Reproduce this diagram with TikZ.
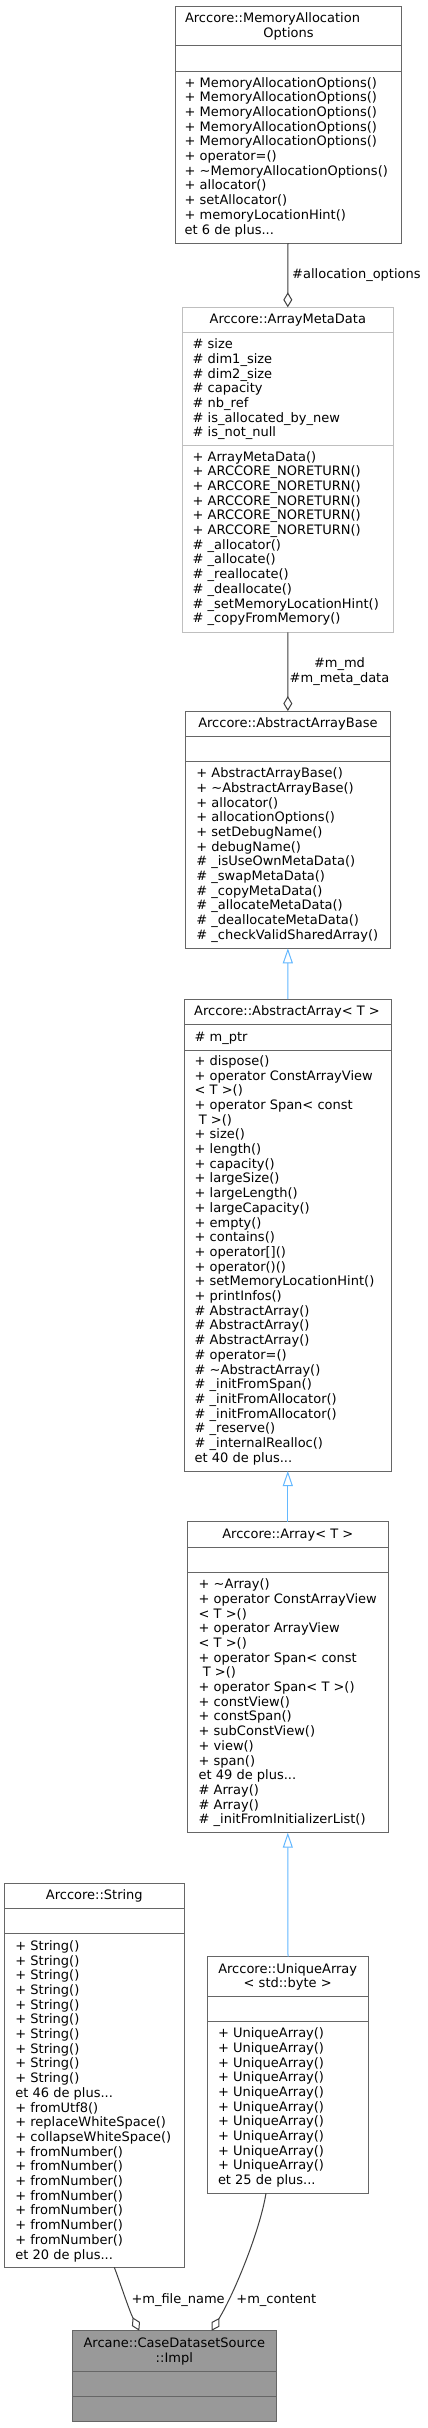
\documentclass[tikz,border=0pt]{standalone}
\usepackage{fontspec}
\setmainfont{DejaVu Sans}
\usetikzlibrary{arrows.meta,calc}
\definecolor{boxgray}{HTML}{666666}
\definecolor{lightgray}{HTML}{BFBFBF}
\definecolor{implfill}{HTML}{999999}
\definecolor{edgegray}{HTML}{404040}
\definecolor{inhblue}{HTML}{63B8FF}
\newcommand\tdots{...}
\newcommand\tl{\textasciitilde}
\newcommand\clines[4]{\foreach \t [count=\i] in {#4} {\node[txt,anchor=base west] (#1-\i) at (#2,{#3+(\i-1)*14.7}) {\t};}}
\newcommand\sepl[3][boxgray]{\draw[draw=#1,line width=1pt] ([yshift=-#3pt]#2.north west) -- ([yshift=-#3pt]#2.north east);}
\tikzset{
  box/.style={draw=boxgray, fill=white, line width=1pt, inner sep=0pt, outer sep=0pt, anchor=north west},
  txt/.style={inner sep=0pt, outer sep=0pt, font=\fontsize{13}{14.7}\selectfont},
  agg/.style={draw=edgegray, line width=1pt, -{Diamond[open,length=15pt,width=9pt]}},
  inh/.style={draw=inhblue, line width=1pt, -{Triangle[open,length=15pt,width=10pt]}},
}
\begin{document}
\begin{tikzpicture}[x=1pt,y=-1pt]
\fill[white] (0,0) rectangle (428,2428);
\useasboundingbox (0,0) rectangle (428,2428);

% MemoryAllocationOptions
\node[box, minimum width=226pt, minimum height=237pt] (mao) at (175,6) {};
\sepl{mao}{39}
\sepl{mao}{65}
\node[txt,anchor=base west] (mao-t1) at (185,22.5) {Arccore::MemoryAllocation};
\node[txt,anchor=base] (mao-t2) at (288.5,37.2) {Options};
\clines{maom}{184.7}{87}{{+ MemoryAllocationOptions()},{+ MemoryAllocationOptions()},{+ MemoryAllocationOptions()},{+ MemoryAllocationOptions()},{+ MemoryAllocationOptions()},{+ operator=()},{+ \tl MemoryAllocationOptions()},{+ allocator()},{+ setAllocator()},{+ memoryLocationHint()},{et 6 de plus\tdots}}

% ArrayMetaData
\node[box, draw=lightgray, minimum width=211pt, minimum height=325pt] (amd) at (182.3,307.3) {};
\sepl[lightgray]{amd}{25}
\sepl[lightgray]{amd}{138.4}
\node[txt,anchor=base] (amd-t) at (287.8,323.5) {Arccore::ArrayMetaData};
\clines{amda}{192.7}{348.6}{{\# size},{\# dim1\_size},{\# dim2\_size},{\# capacity},{\# nb\_ref},{\# is\_allocated\_by\_new},{\# is\_not\_null}}
\clines{amdm}{192.7}{461}{{+ ArrayMetaData()},{+ ARCCORE\_NORETURN()},{+ ARCCORE\_NORETURN()},{+ ARCCORE\_NORETURN()},{+ ARCCORE\_NORETURN()},{+ ARCCORE\_NORETURN()},{\# \_allocator()},{\# \_allocate()},{\# \_reallocate()},{\# \_deallocate()},{\# \_setMemoryLocationHint()},{\# \_copyFromMemory()}}

% AbstractArrayBase
\node[box, minimum width=204.3pt, minimum height=237.3pt] (aab) at (185.7,711) {};
\sepl{aab}{25.7}
\sepl{aab}{50.7}
\node[txt,anchor=base] (aab-t) at (287.9,727) {Arccore::AbstractArrayBase};
\clines{aabm}{196.4}{777.6}{{+ AbstractArrayBase()},{+ \tl AbstractArrayBase()},{+ allocator()},{+ allocationOptions()},{+ setDebugName()},{+ debugName()},{\# \_isUseOwnMetaData()},{\# \_swapMetaData()},{\# \_copyMetaData()},{\# \_allocateMetaData()},{\# \_deallocateMetaData()},{\# \_checkValidSharedArray()}}

% AbstractArray<T>
\node[box, minimum width=207pt, minimum height=472pt] (aa) at (184.3,999) {};
\sepl{aa}{25.3}
\sepl{aa}{51}
\node[txt,anchor=base] (aa-t) at (287,1015) {Arccore::AbstractArray< T >};
\node[txt,anchor=base west] (aa-a1) at (194.7,1041) {\# m\_ptr};
\clines{aam}{194.7}{1065.3}{{+ dispose()},{+ operator ConstArrayView},{< T >()},{+ operator Span< const},{\ T >()},{+ size()},{+ length()},{+ capacity()},{+ largeSize()},{+ largeLength()},{+ largeCapacity()},{+ empty()},{+ contains()},{+ operator[]()},{+ operator()()},{+ setMemoryLocationHint()},{+ printInfos()},{\# AbstractArray()},{\# AbstractArray()},{\# AbstractArray()},{\# operator=()},{\# \tl AbstractArray()},{\# \_initFromSpan()},{\# \_initFromAllocator()},{\# \_initFromAllocator()},{\# \_reserve()},{\# \_internalRealloc()},{et 40 de plus\tdots}}

% Array<T>
\node[box, minimum width=201pt, minimum height=311pt] (arr) at (187.3,1521.7) {};
\sepl{arr}{25.6}
\sepl{arr}{50.6}
\node[txt,anchor=base] (arr-t) at (287.8,1538) {Arccore::Array< T >};
\clines{arrm}{198.7}{1588.6}{{+ \tl Array()},{+ operator ConstArrayView},{< T >()},{+ operator ArrayView},{< T >()},{+ operator Span< const},{\ T >()},{+ operator Span< T >()},{+ constView()},{+ constSpan()},{+ subConstView()},{+ view()},{+ span()},{et 49 de plus\tdots},{\# Array()},{\# Array()},{\# \_initFromInitializerList()}}

% UniqueArray<std::byte>
\node[box, minimum width=160.6pt, minimum height=236.6pt] (ua) at (207.7,1956.7) {};
\sepl{ua}{39.3}
\sepl{ua}{65}
\node[txt,anchor=base] (ua-t1) at (287.7,1973) {Arccore::UniqueArray};
\node[txt,anchor=base] (ua-t2) at (287.7,1987.5) {< std::byte >};
\clines{uam}{218}{2037.6}{{+ UniqueArray()},{+ UniqueArray()},{+ UniqueArray()},{+ UniqueArray()},{+ UniqueArray()},{+ UniqueArray()},{+ UniqueArray()},{+ UniqueArray()},{+ UniqueArray()},{+ UniqueArray()},{et 25 de plus\tdots}}

% String
\node[box, minimum width=179.3pt, minimum height=384pt] (str) at (4.7,1883.3) {};
\sepl{str}{25}
\sepl{str}{50}
\node[txt,anchor=base] (str-t) at (94.3,1899.5) {Arccore::String};
\clines{strm}{15.4}{1950.3}{{+ String()},{+ String()},{+ String()},{+ String()},{+ String()},{+ String()},{+ String()},{+ String()},{+ String()},{+ String()},{et 46 de plus\tdots},{+ fromUtf8()},{+ replaceWhiteSpace()},{+ collapseWhiteSpace()},{+ fromNumber()},{+ fromNumber()},{+ fromNumber()},{+ fromNumber()},{+ fromNumber()},{+ fromNumber()},{+ fromNumber()},{et 20 de plus\tdots}}

% Impl
\node[box, fill=implfill, minimum width=203.3pt, minimum height=91pt] (impl) at (72.7,2330.7) {};
\sepl{impl}{40.3}
\sepl{impl}{66}
\node[txt,anchor=base] (impl-t1) at (174.3,2347) {Arcane::CaseDatasetSource};
\node[txt,anchor=base] (impl-t2) at (174.3,2362) {::Impl};

% edges
\draw[agg] (mao.south) -- (amd.north);
\node[txt,anchor=base west] (l-ao) at (292.2,278) {\#allocation\_options};
\draw[agg] (amd.south) -- (aab.north);
\node[txt,anchor=base] (l-md) at (339.5,667.3) {\#m\_md};
\node[txt,anchor=base] (l-mmd) at (339.5,682.3) {\#m\_meta\_data};
\draw[inh] (aa.north) -- (aab.south);
\draw[inh] (arr.north) -- (aa.south);
\draw[inh] (ua.north) -- (arr.south);
\draw[agg] ([xshift=109.6pt]str.south west) .. controls ([xshift=116.3pt,yshift=-17.7pt]str.south west) and ([xshift=56.3pt,yshift=20.7pt]impl.north west) .. ([xshift=66.6pt]impl.north west);
\draw[agg] ([xshift=58.3pt]ua.south west) .. controls ([xshift=52.3pt,yshift=-36.7pt]ua.south west) and ([xshift=162.3pt,yshift=38.7pt]impl.north west) .. ([xshift=139pt]impl.north west);
\node[txt,anchor=base west] (l-fn) at (131.5,2303) {+m\_file\_name};
\node[txt,anchor=base west] (l-ct) at (236.4,2303) {+m\_content};
\end{tikzpicture}
\end{document}
